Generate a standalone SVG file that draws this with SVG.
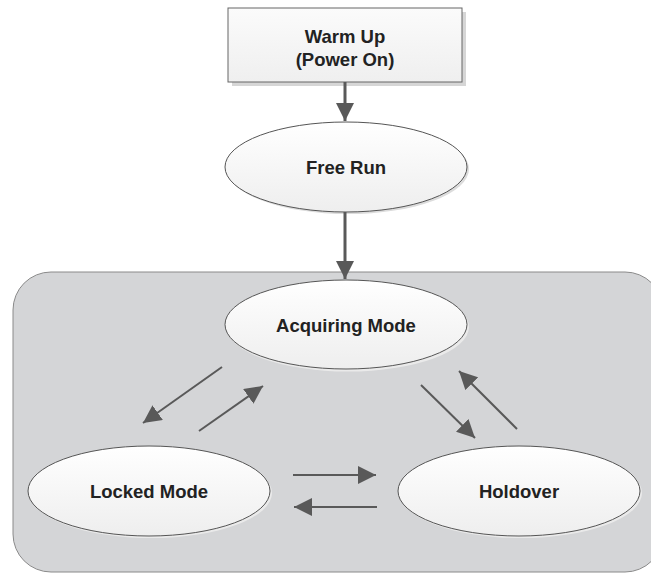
<svg xmlns="http://www.w3.org/2000/svg" width="651" height="574" viewBox="0 0 651 574">
  <defs>
    <linearGradient id="ellGrad" x1="0" y1="0" x2="0" y2="1">
      <stop offset="0" stop-color="#ffffff"/>
      <stop offset="1" stop-color="#eeeeee"/>
    </linearGradient>
    <linearGradient id="rectGrad" x1="0" y1="0" x2="0" y2="1">
      <stop offset="0" stop-color="#fbfbfb"/>
      <stop offset="1" stop-color="#efefef"/>
    </linearGradient>
    <marker id="ah" markerUnits="userSpaceOnUse" markerWidth="20" markerHeight="18" refX="18" refY="9" orient="auto">
      <path d="M0,0 L18,9 L0,18 Z" fill="#595959"/>
    </marker>
  </defs>
  <style>
    .lbl { font-family: "Liberation Sans", Arial, sans-serif; font-weight: bold; font-size: 18.5px; fill: #222; text-anchor: middle; }
    .ell { fill: url(#ellGrad); stroke: #555; stroke-width: 1; }
    .conn { stroke: #595959; fill: none; marker-end: url(#ah); }
  </style>

  <g id="container">
    <rect x="13" y="272" width="650" height="300" rx="38" ry="38" fill="#d4d5d7" stroke="#8a8a8a" stroke-width="1"/>
  </g>

  <g id="warmup">
    <rect x="232" y="12" width="234" height="74" fill="#d6d6d6"/>
    <rect x="228" y="8" width="234" height="74" fill="url(#rectGrad)" stroke="#666" stroke-width="1"/>
    <text class="lbl" x="345" y="43">Warm Up</text>
    <text class="lbl" x="345" y="66">(Power On)</text>
  </g>

  <g id="freerun">
    <ellipse cx="348" cy="169" rx="121" ry="45" fill="#dcdcdc"/>
    <ellipse class="ell" cx="346" cy="167" rx="121" ry="45"/>
    <text class="lbl" x="346" y="174">Free Run</text>
  </g>

  <g id="acquiring">
    <ellipse cx="348" cy="327" rx="121" ry="44.5" fill="#eaeaea"/>
    <ellipse class="ell" cx="346" cy="324.5" rx="121" ry="44.5"/>
    <text class="lbl" x="346" y="332">Acquiring Mode</text>
  </g>

  <g id="locked">
    <ellipse cx="151" cy="493" rx="121" ry="45" fill="#eaeaea"/>
    <ellipse class="ell" cx="149" cy="491" rx="121" ry="45"/>
    <text class="lbl" x="149" y="498">Locked Mode</text>
  </g>

  <g id="holdover">
    <ellipse cx="521" cy="493" rx="121" ry="45" fill="#eaeaea"/>
    <ellipse class="ell" cx="519" cy="491" rx="121" ry="45"/>
    <text class="lbl" x="519" y="498">Holdover</text>
  </g>

  <g id="connectors">
    <line class="conn" x1="345" y1="82" x2="345" y2="121" stroke-width="3"/>
    <line class="conn" x1="345" y1="212" x2="345" y2="279" stroke-width="3"/>
    <line class="conn" x1="222" y1="367" x2="143" y2="423" stroke-width="2"/>
    <line class="conn" x1="199" y1="431" x2="263" y2="386" stroke-width="2"/>
    <line class="conn" x1="421" y1="385" x2="475" y2="438" stroke-width="2"/>
    <line class="conn" x1="517" y1="429" x2="459" y2="371" stroke-width="2"/>
    <line class="conn" x1="293" y1="475" x2="376" y2="475" stroke-width="2"/>
    <line class="conn" x1="377" y1="507" x2="294" y2="507" stroke-width="2"/>
  </g>
</svg>
